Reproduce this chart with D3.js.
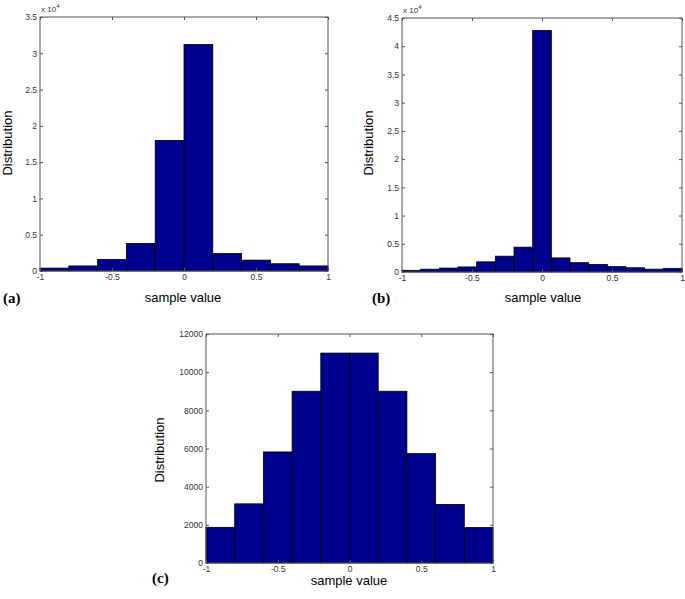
<!DOCTYPE html>
<html>
<head>
<meta charset="utf-8">
<script src="https://cdn.jsdelivr.net/npm/d3@7"></script>
<style>
  body { margin: 0; background: #fff; }
  svg { display: block; font-family: "Liberation Sans", Arial, sans-serif; }
  .tick text { fill: #333; font-size: 8.5px; font-family: "Liberation Sans", Arial, sans-serif; }
  .domain { display: none; }
  .tick line { stroke: #555; }
</style>
</head>
<body>
<div id="chart"></div>
<script>
// bin counts
const countsA = [400, 700, 1600, 3800, 18000, 31200, 2400, 1500, 1000, 700];
const countsB = [300, 500, 700, 900, 1800, 2800, 4400, 42800, 2500, 1650, 1350, 950, 750, 500, 650];
const countsC = [1870, 3100, 5820, 9000, 11000, 11000, 9000, 5730, 3070, 1860];

const xTicks = [-1, -0.5, 0, 0.5, 1];
const yTicksA = [0, 5000, 10000, 15000, 20000, 25000, 30000, 35000];
const yTicksB = [0, 5000, 10000, 15000, 20000, 25000, 30000, 35000, 40000, 45000];
const yTicksC = [0, 2000, 4000, 6000, 8000, 10000, 12000];

const panelLabels = ["(a)", "(b)", "(c)"];

const width = 685, height = 599;
const svg = d3.select("#chart").append("svg")
  .attr("width", width)
  .attr("height", height);

const fmt = (d) => String(d);

function drawPanel(cfg) {
  const { counts, yTicks, ymax, exp, box, label, labelPos, xLabelPos, yLabelPos } = cfg;
  const n = counts.length;
  const binW = 2 / n;
  const bins = counts.map((c, i) => ({ x0: -1 + i * binW, x1: -1 + (i + 1) * binW, c }));

  const x = d3.scaleLinear().domain([-1, 1]).range([box.left, box.right]);
  const y = d3.scaleLinear().domain([0, ymax]).range([box.bottom, box.top]);

  const g = svg.append("g");

  g.append("g")
    .selectAll("rect")
    .data(bins)
    .join("rect")
    .attr("x", (d) => x(d.x0))
    .attr("y", (d) => y(d.c))
    .attr("width", (d) => x(d.x1) - x(d.x0))
    .attr("height", (d) => y(0) - y(d.c))
    .attr("fill", "#00008f")
    .attr("stroke", "#000")
    .attr("stroke-width", 0.8);

  const yFmt = exp ? (d) => fmt(d / Math.pow(10, exp)) : fmt;

  g.append("g")
    .attr("transform", `translate(0,${box.bottom})`)
    .call(d3.axisBottom(x).tickValues(xTicks).tickFormat(fmt).tickSizeInner(-3).tickSizeOuter(0).tickPadding(3));
  g.append("g")
    .attr("transform", `translate(0,${box.top})`)
    .call(d3.axisTop(x).tickValues(xTicks).tickFormat("").tickSizeInner(-3).tickSizeOuter(0));
  g.append("g")
    .attr("transform", `translate(${box.left},0)`)
    .call(d3.axisLeft(y).tickValues(yTicks).tickFormat(yFmt).tickSizeInner(-3).tickSizeOuter(0).tickPadding(3));
  g.append("g")
    .attr("transform", `translate(${box.right},0)`)
    .call(d3.axisRight(y).tickValues(yTicks).tickFormat("").tickSizeInner(-3).tickSizeOuter(0));

  g.append("rect")
    .attr("x", box.left)
    .attr("y", box.top)
    .attr("width", box.right - box.left)
    .attr("height", box.bottom - box.top)
    .attr("fill", "none")
    .attr("stroke", "#555")
    .attr("stroke-width", 1);

  if (exp) {
    const t = g.append("text")
      .attr("x", box.left + 1)
      .attr("y", box.top - 5)
      .style("font-size", "8px")
      .attr("fill", "#333");
    t.append("tspan").text("x 10");
    t.append("tspan").attr("dy", -4).style("font-size", "6px").text(exp);
  }

  g.append("text")
    .attr("transform", `translate(${yLabelPos[0]},${yLabelPos[1]}) rotate(-90)`)
    .attr("text-anchor", "middle")
    .style("font-size", "13px")
    .text("Distribution");

  g.append("text")
    .attr("x", xLabelPos[0])
    .attr("y", xLabelPos[1])
    .attr("text-anchor", "middle")
    .style("font-size", "13px")
    .text("sample value");

  g.append("text")
    .attr("x", labelPos[0])
    .attr("y", labelPos[1])
    .style("font-family", "'Liberation Serif', 'Times New Roman', serif")
    .style("font-weight", "bold")
    .style("font-size", "15px")
    .text(label);
}

drawPanel({
  counts: countsA, yTicks: yTicksA, ymax: 35000, exp: 4,
  box: { left: 40, right: 328, top: 17, bottom: 271 },
  label: panelLabels[0], labelPos: [3, 303], xLabelPos: [183, 302], yLabelPos: [12, 143]
});

drawPanel({
  counts: countsB, yTicks: yTicksB, ymax: 45000, exp: 4,
  box: { left: 402, right: 682, top: 18, bottom: 272 },
  label: panelLabels[1], labelPos: [372, 303], xLabelPos: [543, 302], yLabelPos: [373, 143]
});

drawPanel({
  counts: countsC, yTicks: yTicksC, ymax: 12000, exp: 0,
  box: { left: 206, right: 493, top: 334, bottom: 563 },
  label: panelLabels[2], labelPos: [152, 583], xLabelPos: [349, 585], yLabelPos: [164, 450]
});
</script>
</body>
</html>
